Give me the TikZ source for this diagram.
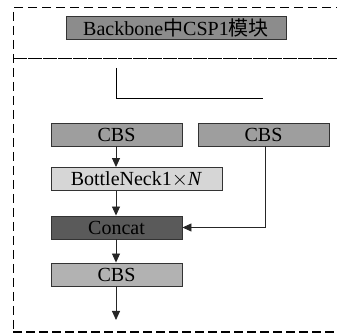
\documentclass[tikz,border=0pt]{standalone}
\usepackage{fontspec}
\setmainfont{Liberation Serif}
\newfontfamily\cjk{Noto Sans CJK SC}
\usetikzlibrary{arrows.meta}
\definecolor{hdrgray}{HTML}{8C8C8C}
\definecolor{cbsgray}{HTML}{9E9E9E}
\definecolor{bngray}{HTML}{D6D6D6}
\definecolor{catgray}{HTML}{5A5A5A}
\definecolor{outgray}{HTML}{B2B2B2}
\tikzset{
  blk/.style={draw=black!80, line width=0.9pt, rectangle, inner sep=0pt,
    minimum height=23pt, font=\fontsize{20}{22}\selectfont},
  frameline/.style={line width=1pt, dash pattern=on 9pt off 5pt},
  link/.style={line width=0.9pt, draw=black!85, -{Triangle[length=9pt,width=8pt]}},
}
\begin{document}
\begin{tikzpicture}[x=1pt,y=-1pt]
\useasboundingbox (0,0) rectangle (337,336);
% outer dashed frame, open to the right
\draw[frameline] (345,8) -- (13,8) -- (13,333);
\draw[line width=2pt, dash pattern=on 9pt off 4pt] (13,332) -- (345,332);
\draw[line width=1pt, dash pattern=on 14pt off 1pt] (13,59) -- (345,59);
% header
\node[blk, fill=hdrgray, minimum width=220pt] (hdr) at (176,27.5) {Backbone{\cjk 中}CSP1{\cjk 模块}};
% bracket mark
\coordinate (bA) at (116,68);
\coordinate (bB) at (116,98);
\coordinate (bC) at (263,98);
\draw[line width=0.9pt] (bA) -- (bB) -- (bC);
% blocks
\node[blk, fill=cbsgray, minimum width=131pt] (cbs1) at (116.5,134.5) {CBS};
\node[blk, fill=cbsgray, minimum width=131pt] (cbs2) at (263.5,134.5) {CBS};
\node[blk, fill=bngray, minimum width=171pt] (bn) at (136.5,179) {BottleNeck1$\times$\textit{N}};
\node[blk, fill=catgray, minimum width=131pt] (cat) at (116.5,227.5) {Concat};
\node[blk, fill=outgray, minimum width=131pt] (cbs3) at (116.5,274.5) {CBS};
\coordinate (out) at (116,320);
% connectors
\draw[link] (cbs1.south -| 116,0) -- (bn.north -| 116,0);
\draw[link] (bn.south -| 116,0) -- (cat.north -| 116,0);
\draw[link] (cbs2.south -| 265,0) |- (cat.east);
\draw[link] (cat.south -| 116,0) -- (cbs3.north -| 116,0);
\draw[link] (cbs3.south -| 116,0) -- (out);
\end{tikzpicture}
\end{document}
